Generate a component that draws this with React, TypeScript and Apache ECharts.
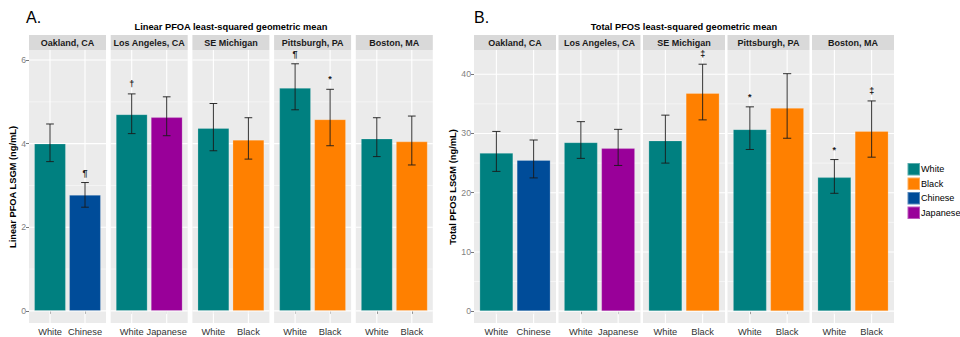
import React, { useEffect, useRef } from 'react';
import * as echarts from 'echarts';

const sites = ['Oakland, CA', 'Los Angeles, CA', 'SE Michigan', 'Pittsburgh, PA', 'Boston, MA'];
const groups = [
  ['White', 'Chinese'],
  ['White', 'Japanese'],
  ['White', 'Black'],
  ['White', 'Black'],
  ['White', 'Black'],
];

const pfoaMean = [[4.0, 2.77], [4.70, 4.63], [4.37, 4.09], [5.33, 4.58], [4.12, 4.05]];
const pfoaLow = [[3.57, 2.48], [4.24, 4.19], [3.83, 3.63], [4.81, 3.95], [3.69, 3.49]];
const pfoaHigh = [[4.47, 3.07], [5.19, 5.12], [4.96, 4.62], [5.91, 5.30], [4.62, 4.66]];
const pfoaNotes = [['', '¶'], ['†', ''], ['', ''], ['¶', '*'], ['', '']];

const pfosMean = [[26.7, 25.5], [28.5, 27.5], [28.8, 36.8], [30.7, 34.3], [22.6, 30.4]];
const pfosLow = [[23.6, 22.5], [25.8, 24.6], [25.0, 32.3], [27.3, 29.2], [19.9, 26.0]];
const pfosHigh = [[30.35, 28.9], [32.0, 30.7], [33.1, 41.7], [34.5, 40.1], [25.6, 35.5]];
const pfosNotes = [['', ''], ['', ''], ['', '‡'], ['*', ''], ['*', '‡']];

const pfoaTicks = [0, 2, 4, 6];
const pfoaMinor = [1, 3, 5];
const pfosTicks = [0, 10, 20, 30, 40];
const pfosMinor = [5, 15, 25, 35];

const raceOrder = ['White', 'Black', 'Chinese', 'Japanese'];
const raceColors: Record<string, string> = {
  White: '#008080',
  Black: '#FF8000',
  Chinese: '#004C99',
  Japanese: '#990099',
};

const FONT = '"Liberation Sans", Arial, sans-serif';

function buildOption() {
  const grids: any[] = [];
  const xAxes: any[] = [];
  const yAxes: any[] = [];
  const series: any[] = [];
  const graphics: any[] = [];

  const panels = [
    {
      mean: pfoaMean, low: pfoaLow, high: pfoaHigh, notes: pfoaNotes,
      ticks: pfoaTicks, minor: pfoaMinor, min: -0.29, max: 6.24,
      left0: 29, step: 81.7, width: 77,
      letter: 'A.', letterX: 26,
      title: 'Linear PFOA least-squared geometric mean',
      yTitle: 'Linear PFOA LSGM (ng/mL)', yTitleX: 13,
    },
    {
      mean: pfosMean, low: pfosLow, high: pfosHigh, notes: pfosNotes,
      ticks: pfosTicks, minor: pfosMinor, min: -2.0, max: 44.1,
      left0: 474, step: 84.5, width: 82,
      letter: 'B.', letterX: 474,
      title: 'Total PFOS least-squared geometric mean',
      yTitle: 'Total PFOS LSGM (ng/mL)', yTitleX: 453,
    },
  ];

  const top = 50;
  const height = 273;

  panels.forEach((P) => {
    const totalRight = P.left0 + P.step * 4 + P.width;
    graphics.push({
      type: 'text', x: P.letterX, y: 25,
      style: { text: P.letter, font: `16px ${FONT}`, fill: '#000', verticalAlign: 'bottom' },
    });
    graphics.push({
      type: 'text', x: (P.left0 + totalRight) / 2, y: 26.5,
      style: { text: P.title, font: `bold 9.3px ${FONT}`, fill: '#000', align: 'center', verticalAlign: 'middle' },
    });
    graphics.push({
      type: 'text', x: P.yTitleX, y: 187, rotation: Math.PI / 2,
      style: { text: P.yTitle, font: `bold 9.3px ${FONT}`, fill: '#000', align: 'center', verticalAlign: 'middle' },
    });

    sites.forEach((site, i) => {
      const g = grids.length;
      const left = P.left0 + P.step * i;
      const pxPerUnit = P.width / 2.2;
      const bw = 0.9 * pxPerUnit;
      const capW = 0.22 * pxPerUnit;
      grids.push({
        left, top, width: P.width, height,
        show: true, backgroundColor: '#EBEBEB', borderWidth: 0,
      });
      graphics.push({
        type: 'rect', shape: { x: left, y: 35, width: P.width, height: 15 },
        style: { fill: '#D9D9D9' }, z: -1,
      });
      graphics.push({
        type: 'text', x: left + P.width / 2, y: 43,
        style: { text: site, font: `bold 9px ${FONT}`, fill: '#1A1A1A', align: 'center', verticalAlign: 'middle' },
      });
      const cats = groups[i];
      xAxes.push({
        gridIndex: g, type: 'value', min: 0.4, max: 2.6,
        axisLine: { show: false },
        splitLine: { show: false },
        axisTick: { show: true, customValues: [1, 2], length: 3, lineStyle: { color: '#333', width: 0.8 } },
        axisLabel: {
          show: true, customValues: [1, 2], margin: 4,
          formatter: (v: number) => cats[Math.round(v) - 1] ?? '',
          fontSize: 9.3, color: '#333', fontFamily: FONT,
        },
      });
      yAxes.push({
        gridIndex: g, type: 'value', min: P.min, max: P.max,
        axisLine: { show: false },
        splitLine: { show: false },
        axisTick: { show: i === 0, customValues: P.ticks, length: 3, lineStyle: { color: '#555', width: 0.8 } },
        axisLabel: {
          show: i === 0, customValues: P.ticks, margin: 3,
          fontSize: 8.7, color: '#7F7F7F', fontFamily: FONT,
        },
      });

      const gridData: number[][] = [];
      P.ticks.forEach((v) => gridData.push([0, v, 1]));
      P.minor.forEach((v) => gridData.push([0, v, 0]));
      [1, 2].forEach((v) => gridData.push([1, v, 1]));
      series.push({
        type: 'custom', xAxisIndex: g, yAxisIndex: g, silent: true, z: 1,
        data: gridData,
        renderItem: (params: any, api: any) => {
          const kind = api.value(0);
          const v = api.value(1);
          const major = api.value(2);
          const cs = params.coordSys;
          if (kind === 0) {
            const y = api.coord([1, v])[1];
            return {
              type: 'line', shape: { x1: cs.x, y1: y, x2: cs.x + cs.width, y2: y },
              style: { stroke: '#FFFFFF', lineWidth: major ? 1.1 : 0.5 },
            };
          }
          const x = api.coord([v, 0])[0];
          return {
            type: 'line', shape: { x1: x, y1: cs.y, x2: x, y2: cs.y + cs.height },
            style: { stroke: '#FFFFFF', lineWidth: 1.1 },
          };
        },
      });

      cats.forEach((race, j) => {
        series.push({
          type: 'bar', name: race, xAxisIndex: g, yAxisIndex: g,
          data: [[j + 1, P.mean[i][j]]],
          barWidth: bw, barGap: '-100%', z: 2,
          itemStyle: { color: raceColors[race], borderColor: 'rgba(255,255,255,0.35)', borderWidth: 0.6 },
        });
      });

      const notes = P.notes[i];
      series.push({
        type: 'custom', xAxisIndex: g, yAxisIndex: g, silent: true, z: 3,
        data: cats.map((_, j) => [j + 1, P.low[i][j], P.high[i][j]]),
        renderItem: (params: any, api: any) => {
          const x = api.value(0);
          const lo = api.value(1);
          const hi = api.value(2);
          const pL = api.coord([x, lo]);
          const pH = api.coord([x, hi]);
          const c = capW / 2;
          const st = { stroke: '#1A1A1A', lineWidth: 0.9 };
          const children: any[] = [
            { type: 'line', shape: { x1: pL[0], y1: pL[1], x2: pH[0], y2: pH[1] }, style: st },
            { type: 'line', shape: { x1: pL[0] - c, y1: pL[1], x2: pL[0] + c, y2: pL[1] }, style: st },
            { type: 'line', shape: { x1: pH[0] - c, y1: pH[1], x2: pH[0] + c, y2: pH[1] }, style: st },
          ];
          const note = notes[params.dataIndex];
          if (note) {
            children.push({
              type: 'text', x: pH[0], y: pH[1] - 10,
              style: { text: note, font: `bold 9px ${FONT}`, fill: '#1A1A1A', align: 'center', verticalAlign: 'middle' },
            });
          }
          return { type: 'group', children };
        },
      });
    });
  });

  return {
    animation: false,
    backgroundColor: '#FFFFFF',
    textStyle: { fontFamily: FONT },
    grid: grids,
    xAxis: xAxes,
    yAxis: yAxes,
    series,
    graphic: graphics,
    legend: {
      data: raceOrder.map((name) => ({ name })),
      orient: 'vertical', left: 906.5, top: 162, padding: 0,
      itemWidth: 12.5, itemHeight: 12.5, itemGap: 0,
      icon: 'rect', selectedMode: false,
      textStyle: { fontSize: 9.1, color: '#000', fontFamily: FONT, lineHeight: 12.5, padding: [0, 0, 0, -4] },
    },
  };
}

export default function App() {
  const ref = useRef<HTMLDivElement>(null);
  useEffect(() => {
    document.body.style.margin = '0';
    if (!ref.current) return;
    const chart = echarts.init(ref.current, undefined, { renderer: 'svg' });
    chart.setOption(buildOption() as any);
    return () => chart.dispose();
  }, []);
  return <div ref={ref} style={{ width: 960, height: 337 }} />;
}
